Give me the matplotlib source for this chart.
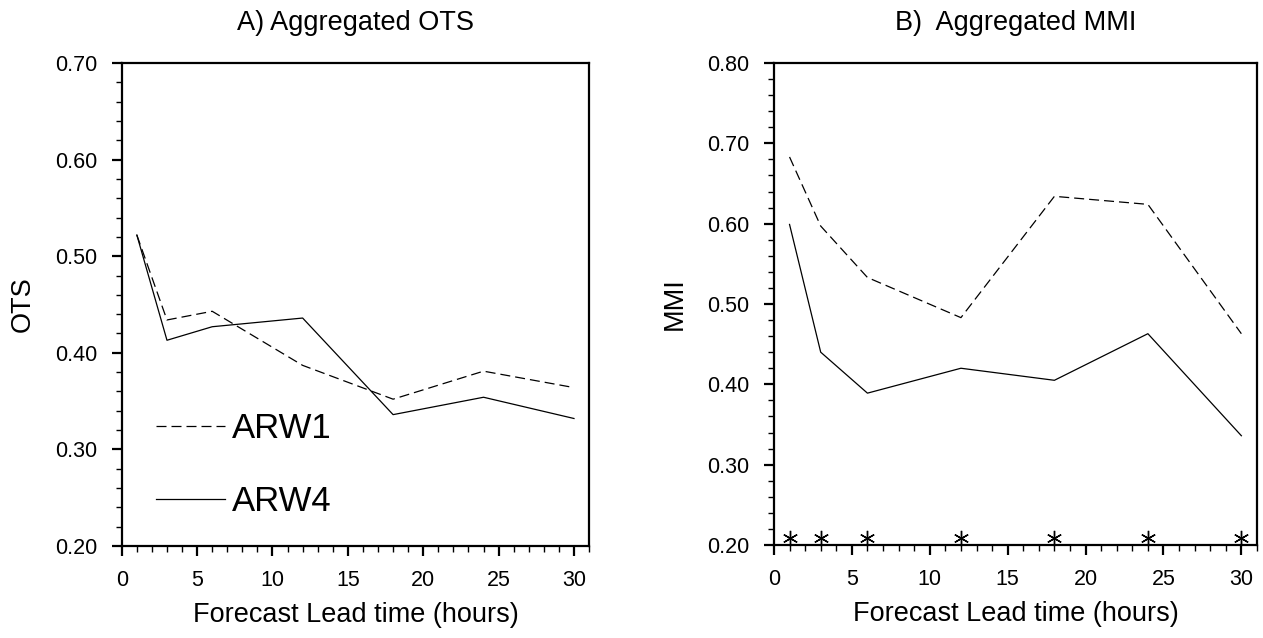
import matplotlib
matplotlib.use('Agg')
import matplotlib.pyplot as plt
from matplotlib.ticker import MultipleLocator

plt.rcParams['font.family'] = ['Liberation Sans', 'DejaVu Sans']

# Data
lead_time = [1, 3, 6, 12, 18, 24, 30]
ots_arw1 = [0.522, 0.434, 0.443, 0.387, 0.352, 0.381, 0.364]
ots_arw4 = [0.522, 0.413, 0.427, 0.436, 0.336, 0.354, 0.332]
mmi_arw1 = [0.683, 0.597, 0.533, 0.483, 0.634, 0.624, 0.463]
mmi_arw4 = [0.599, 0.440, 0.389, 0.420, 0.405, 0.463, 0.336]
signif_y = [0.209] * 7

fig = plt.figure(figsize=(12.63, 6.38), dpi=100)
ax1 = fig.add_axes([0.0964, 0.1442, 0.370, 0.757])
ax2 = fig.add_axes([0.6128, 0.1458, 0.3824, 0.7555])


def style(ax, ymin, ymax):
    ax.set_xlim(0, 31)
    ax.set_ylim(ymin, ymax)
    ax.xaxis.set_major_locator(MultipleLocator(5))
    ax.xaxis.set_minor_locator(MultipleLocator(1))
    ax.yaxis.set_major_locator(MultipleLocator(0.1))
    ax.yaxis.set_minor_locator(MultipleLocator(0.02))
    ax.yaxis.set_major_formatter(lambda v, p: '%.2f' % v)
    ax.tick_params(which='major', direction='out', length=7.5, width=1.6,
                   labelsize=15.5, pad=10, top=False, right=False)
    ax.tick_params(which='minor', direction='out', length=4, width=1.0,
                   top=False, right=False)
    for s in ax.spines.values():
        s.set_linewidth(1.6)
    ax.set_xlabel('Forecast Lead time (hours)', fontsize=19.5, labelpad=8)


style(ax1, 0.2, 0.7)
ax1.plot(lead_time, ots_arw1, color='black', lw=0.9, ls=(0, (8, 4)), label='ARW1')
ax1.plot(lead_time, ots_arw4, color='black', lw=0.9, label='ARW4')
ax1.set_ylabel('OTS', fontsize=19.5, labelpad=14)
ax1.set_title('A) Aggregated OTS', fontsize=19.5, pad=24)
ax1.legend(loc='lower left', bbox_to_anchor=(0.073, 0.057), frameon=False,
           fontsize=25, handlelength=2.0, handletextpad=0.2,
           labelspacing=1.16, borderpad=0, borderaxespad=0)

style(ax2, 0.2, 0.8)
ax2.plot(lead_time, mmi_arw1, color='black', lw=0.9, ls=(0, (8, 4)))
ax2.plot(lead_time, mmi_arw4, color='black', lw=0.9)
ax2.plot(lead_time, signif_y, ls='none', marker=(6, 2, 0), ms=11,
         mew=1.0, color='black', clip_on=False)
ax2.set_ylabel('MMI', fontsize=19.5, labelpad=14)
ax2.set_title('B)  Aggregated MMI', fontsize=19.5, pad=24)

fig.savefig('out.png', dpi=100)
